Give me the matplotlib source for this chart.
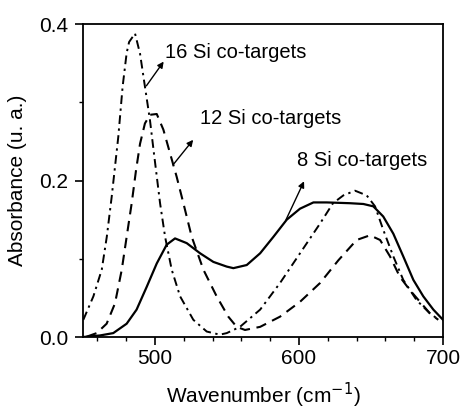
import matplotlib
matplotlib.use("Agg")
import matplotlib.pyplot as plt

plt.rcParams['font.family'] = ['Liberation Sans', 'DejaVu Sans']

# 8 Si co-targets (solid)
x8 = [450, 461.8, 471, 480.3, 487.2, 494.2, 501.2, 508.1, 513.9, 522, 531.3, 540.5, 549.8,
      554.4, 563.7, 573, 582.2, 591.5, 600.7, 610, 619.2, 635.4, 644.7, 651.6, 658.5, 665.5,
      672.4, 679.4, 686.3, 693.3, 700]
y8 = [0.0, 0.002, 0.005, 0.017, 0.035, 0.064, 0.094, 0.118, 0.126, 0.120, 0.107, 0.096, 0.090,
      0.088, 0.092, 0.107, 0.128, 0.150, 0.164, 0.172, 0.172, 0.171, 0.170, 0.167, 0.154, 0.132,
      0.103, 0.073, 0.052, 0.035, 0.022]

# 12 Si co-targets (dashed)
x12 = [452.5, 459.5, 466.4, 472.2, 476.9, 480.3, 483.8, 486.8, 489.6, 493, 496.5, 501.2, 505.8,
       510.4, 515, 519.7, 525.5, 533.6, 542.8, 550.9, 556.7, 562.5, 573, 586.8, 600.7, 614.6,
       627.3, 640, 649.3, 656.3, 663.2, 670, 677, 684, 691, 696.7]
y12 = [0.0004, 0.005, 0.017, 0.043, 0.086, 0.128, 0.171, 0.213, 0.247, 0.273, 0.284, 0.285, 0.265,
       0.235, 0.205, 0.171, 0.128, 0.086, 0.052, 0.026, 0.013, 0.009, 0.013, 0.026, 0.045, 0.069,
       0.098, 0.124, 0.130, 0.124, 0.103, 0.077, 0.060, 0.045, 0.030, 0.022]

# 16 Si co-targets (dash-dot)
x16 = [450.2, 457.2, 463, 466.5, 469.9, 474.5, 477.5, 480.3, 482, 486.1, 489.6, 493, 496.5,
       499.3, 503.5, 507, 511.6, 517.4, 526.6, 535.9, 545, 549.8, 559, 573, 586.8, 600.7, 614.6,
       623.6, 630.8, 638.9, 647, 652.8, 658.5, 665.5, 672.4, 681.7, 691, 695.6]
y16 = [0.022, 0.052, 0.086, 0.128, 0.179, 0.256, 0.320, 0.363, 0.377, 0.388, 0.362, 0.320, 0.277,
       0.234, 0.171, 0.128, 0.086, 0.052, 0.022, 0.007, 0.003, 0.005, 0.013, 0.035, 0.069, 0.107,
       0.145, 0.171, 0.181, 0.187, 0.181, 0.167, 0.137, 0.103, 0.073, 0.047, 0.030, 0.024]

labels = ["16 Si co-targets", "12 Si co-targets", "8 Si co-targets"]

fig = plt.figure(figsize=(4.62, 4.12), dpi=100)
ax = fig.add_axes([0.1797, 0.182, 0.7792, 0.7597])

ax.plot(x8, y8, color='black', lw=1.6, ls='-')
ax.plot(x12, y12, color='black', lw=1.5, ls=(0, (5, 3.2)))
ax.plot(x16, y16, color='black', lw=1.4, ls=(0, (4.5, 2.3, 1.2, 2.3)))

ax.set_xlim(450, 700)
ax.set_ylim(0.0, 0.4)
ax.set_xticks([500, 600, 700])
ax.set_xticks(range(460, 700, 20), minor=True)
ax.set_yticks([0.0, 0.2, 0.4])
ax.set_yticklabels(["0.0", "0.2", "0.4"])
ax.set_yticks([0.1, 0.3], minor=True)
ax.tick_params(axis='both', which='major', direction='out', length=5.5, width=1.2, labelsize=15)
ax.tick_params(axis='y', which='major', pad=5)
ax.tick_params(axis='x', which='major', pad=3)
ax.tick_params(axis='both', which='minor', direction='out', length=3, width=1.0)
for s in ax.spines.values():
    s.set_linewidth(1.3)

ax.set_xlabel("Wavenumber (cm$^{-1}$)", fontsize=15, labelpad=9)
ax.set_ylabel("Absorbance (u. a.)", fontsize=15, labelpad=9)

arrow = dict(arrowstyle='-|>', color='black', lw=1.0, mutation_scale=9, shrinkA=0, shrinkB=0)
ax.annotate("", xy=(506, 0.352), xytext=(494, 0.321), arrowprops=arrow)
ax.text(507, 0.364, labels[0], fontsize=14.5, va='center', ha='left')
ax.annotate("", xy=(526.5, 0.252), xytext=(512.5, 0.22), arrowprops=arrow)
ax.text(531, 0.279, labels[1], fontsize=14.5, va='center', ha='left')
ax.annotate("", xy=(603.5, 0.199), xytext=(591, 0.150), arrowprops=arrow)
ax.text(598.5, 0.225, labels[2], fontsize=14.5, va='center', ha='left')

fig.savefig("out.png", dpi=100)
